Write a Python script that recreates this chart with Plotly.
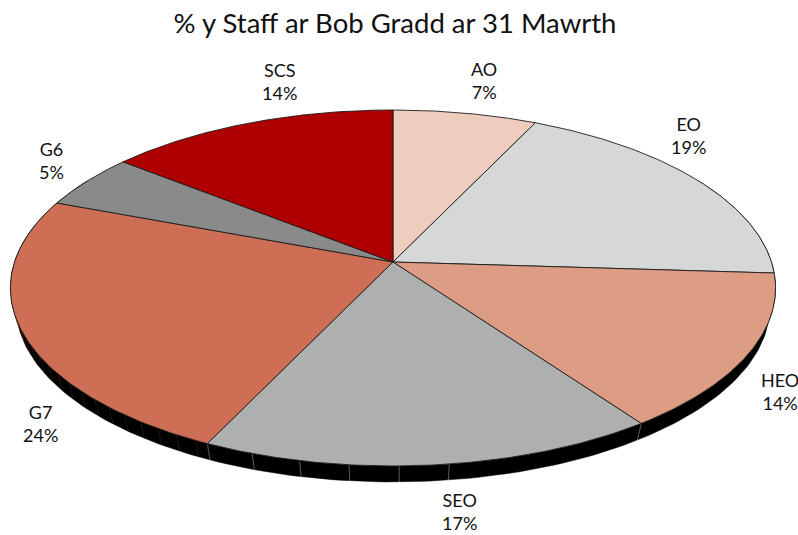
import numpy as np
import plotly.graph_objects as go

W, H = 798, 535
TITLE = "% y Staff ar Bob Gradd ar 31 Mawrth"
categories = ["AO", "EO", "HEO", "SEO", "G7", "G6", "SCS"]
values = [7.0, 19.0, 14.2, 16.8, 23.8, 5.0, 14.2]
colors = ["#EECDBF", "#D6D8D7", "#DD9D85", "#AEB0AF", "#CE6F55", "#8A8A8A", "#AE0000"]
rib_colors = [None, None, None, "#b8b8b8", "#4a2820", None, None]
rib_steps = [None, None, None, 6.5, 3.0, None, None]
rib_floors = [None, None, None, 172.0, 205.0, None, None]

# projection of the tilted disc onto the page
CX, CY = 393.0, 262.0
A, B, K = 378.5, 174.2, 0.146
WALL_SCALE, WALL_DROP = 0.985, 19.0
# label centres relative to the rim point at the middle of each slice
label_offsets = [(19, -33), (-8, -44), (31, 38), (28, 46), (19, 93), (-36, -21), (31, -42)]


def project(t_deg, lower=False):
    t = np.radians(np.asarray(t_deg, dtype=float))
    X, Y = np.sin(t), np.cos(t)
    d = 1 + K * Y
    u, v = A * X / d, B * Y / d
    if lower:
        return CX + WALL_SCALE * u, CY - WALL_SCALE * v + WALL_DROP
    return CX + u, CY - v


total = sum(values)
edges = np.concatenate([[0.0], np.cumsum(values)]) / total * 360.0
fig = go.Figure()

# side wall
ts = np.arange(60.0, 300.5, 1.0)
x1, y1 = project(ts)
x2, y2 = project(ts[::-1], lower=True)
fig.add_trace(go.Scatter(x=np.r_[x1, x2], y=np.r_[y1, y2], mode="lines", fill="toself",
                         fillcolor="#000000", line=dict(color="#000000", width=0.5),
                         hoverinfo="skip"))

# wall ribs, stepping back from the end of each slice
for i, c in enumerate(rib_colors):
    if c is None:
        continue
    xs, ys = [], []
    for t in np.r_[np.arange(min(edges[i + 1], 270.0), rib_floors[i], -rib_steps[i]), edges[i]]:
        a, b = project(t)
        p, q = project(t, lower=True)
        xs += [float(a), float(p), None]
        ys += [float(b), float(q), None]
    fig.add_trace(go.Scatter(x=xs, y=ys, mode="lines", line=dict(color=c, width=0.5),
                             hoverinfo="skip"))

# slices
for i, name in enumerate(categories):
    ts = np.linspace(edges[i], edges[i + 1], 120)
    x, y = project(ts)
    fig.add_trace(go.Scatter(x=np.r_[CX, x, CX], y=np.r_[CY, y, CY], mode="lines", fill="toself",
                             fillcolor=colors[i], line=dict(color="#1c1c1c", width=0.9),
                             name=name, hoverinfo="name"))

# labels
annotations = []
for i, name in enumerate(categories):
    mid = (edges[i] + edges[i + 1]) / 2
    x, y = project(mid)
    dx, dy = label_offsets[i]
    annotations.append(dict(x=float(x) + dx, y=float(y) + dy, xref="x", yref="y", showarrow=False,
                            xanchor="center", yanchor="middle", align="center",
                            text=f"{name}<br>{round(values[i] / total * 100)}%",
                            font=dict(family="Lato", size=18, color="#111111")))

fig.update_layout(
    width=W, height=H, margin=dict(l=0, r=0, t=0, b=0), showlegend=False,
    paper_bgcolor="white", plot_bgcolor="white",
    title=dict(text=TITLE, x=395 / W, xanchor="center", y=1 - 23 / H, yanchor="middle",
               font=dict(family="Lato", size=27.5, color="#111111")),
    xaxis=dict(range=[0, W], visible=False, fixedrange=True),
    yaxis=dict(range=[H, 0], visible=False, fixedrange=True),
    annotations=annotations,
)
fig.write_html("out.html", config=dict(displayModeBar=False),
               post_script="document.body.style.margin='0';document.documentElement.style.overflow='hidden';")
